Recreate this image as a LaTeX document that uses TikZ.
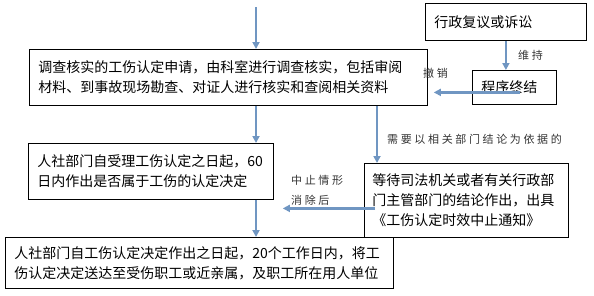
\documentclass[tikz,border=0pt]{standalone}
\usepackage{fontspec}
\setmainfont{Noto Sans CJK SC}
\newfontfamily\cjkwide[LetterSpace=24]{Noto Sans CJK SC}
\usepackage{tikz}
\usetikzlibrary{arrows.meta,positioning,calc}
\definecolor{FlowBlue}{HTML}{7096C2}

\begin{document}
\begin{tikzpicture}[x=1pt,y=-1pt,>={Triangle[length=7pt,width=7pt]},
  stepbox/.style={draw,line width=.8pt,anchor=north west,align=left,
    inner xsep=9pt,inner ysep=0pt,font=\fontsize{14}{20}\selectfont},
  flow/.style={FlowBlue,line width=2.2pt,->},
  tag/.style={font=\cjkwide\fontsize{11}{20}\selectfont,inner sep=0pt,text=black!80}]
  \useasboundingbox (0,0) rectangle (594,295);
  % boxes
  \node[stepbox,minimum width=390pt,minimum height=56pt,text width=380pt] (inv) at (29,49)
    {调查核实的工伤认定申请，由科室进行调查核实，包括审阅\\材料、到事故现场勘查、对证人进行核实和查阅相关资料};
  \node[stepbox,minimum width=161pt,minimum height=37pt,text width=143pt] (review) at (425,3)
    {行政复议或诉讼};
  \node[stepbox,minimum width=84pt,minimum height=34pt,text width=66pt] (end) at (472,70)
    {程序终结};
  \node[stepbox,minimum width=245pt,minimum height=56pt,text width=227pt] (acc) at (28,143)
    {人社部门自受理工伤认定之日起，60\\日内作出是否属于工伤的认定决定};
  \node[stepbox,inner xsep=8pt,minimum width=204pt,minimum height=74pt,text width=188pt] (wait) at (364,163)
    {等待司法机关或者有关行政部\\门主管部门的结论作出，出具\\《工伤认定时效中止通知》};
  \node[stepbox,minimum width=383pt,minimum height=51pt,text width=370pt] (send) at (5,237)
    {人社部门自工伤认定决定作出之日起，20个工作日内，将工\\伤认定决定送达至受伤职工或近亲属，及职工所在用人单位};
  % connectors
  \coordinate (top) at (256,7);
  \draw[flow] (top) -- (top |- inv.north);
  \draw[flow] (inv.south -| top) -- (top |- acc.north);
  \draw[flow] (acc.south -| top) -- (top |- send.north);
  \coordinate (split) at ([xshift=13pt]wait.north west);
  \draw[flow] (inv.south -| split) -- (split);
  \draw[flow] (review.south) -- (review.south |- end.north);
  \coordinate (undo) at ([xshift=6pt,yshift=-5pt]end.center);
  \draw[flow,shorten >=6pt] (undo) -- (undo -| inv.east);
  \coordinate (resume) at ([xshift=11pt,yshift=-8pt]wait.west);
  \draw[flow,shorten >=9pt] (resume) -- (resume -| acc.east);
  % labels
  \node[tag,anchor=west] (keep) at (518,55) {维持};
  \node[tag,anchor=west] (cancel) at (423,73) {撤销};
  \node[tag,anchor=west] (needs) at (387,139) {需要以相关部门结论为依据的};
  \node[tag,anchor=west] (paused) at (291,180) {中止情形};
  \node[tag,anchor=west] (resumed) at (291,200) {消除后};
\end{tikzpicture}
\end{document}
